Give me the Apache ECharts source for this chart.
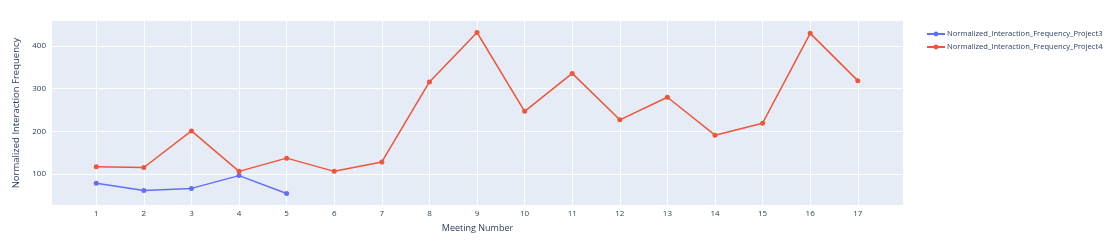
<!DOCTYPE html>
<html>
<head>
<meta charset="utf-8">
<script src="https://cdn.jsdelivr.net/npm/echarts@6/dist/echarts.min.js"></script>
<style>html,body{margin:0;padding:0;background:#fff}#c{width:1112px;height:251px}</style>
</head>
<body>
<div id="c"></div>
<script>
const meetings = [1,2,3,4,5,6,7,8,9,10,11,12,13,14,15,16,17];
const project3 = [78, 61, 66, 96, 54];
const project4 = [117, 115, 201, 106, 137, 106, 128, 316, 432, 247, 336, 227, 280, 191, 219, 430, 319];
const xTicks = meetings;
const yTicks = [100, 200, 300, 400];
const seriesNames = ['Normalized_Interaction_Frequency_Project3', 'Normalized_Interaction_Frequency_Project4'];
const colors = ['#636efa', '#EF553B'];

const font = '"Open Sans", "Noto Sans", sans-serif';
const textColor = '#2a3f5f';

const chart = echarts.init(document.getElementById('c'));
chart.setOption({
  animation: false,
  grid: { left: 52, right: 209, top: 21, bottom: 46, show: true, backgroundColor: '#E5ECF6', borderWidth: 0 },
  legend: {
    orient: 'vertical', left: 921, top: 25,
    itemWidth: 18, itemHeight: 6, itemGap: 5,
    textStyle: { fontFamily: font, fontSize: 7.6, color: textColor, padding: [0,0,0,-3] },
    data: seriesNames
  },
  xAxis: {
    type: 'value', min: 0.07, max: 17.95,
    name: 'Meeting Number', nameLocation: 'middle', nameGap: 19,
    nameTextStyle: { fontFamily: font, fontSize: 9, color: textColor },
    axisLine: { show: false }, axisTick: { show: false, customValues: xTicks },
    axisLabel: { customValues: xTicks, fontFamily: font, fontSize: 8, color: textColor, margin: 5 },
    splitLine: { show: true, lineStyle: { color: '#ffffff', width: 1 } }
  },
  yAxis: {
    type: 'value', min: 27, max: 459,
    name: 'Normalized Interaction Frequency', nameLocation: 'middle', nameGap: 25,
    nameTextStyle: { fontFamily: font, fontSize: 9.5, color: textColor },
    axisLine: { show: false }, axisTick: { show: false, customValues: yTicks },
    axisLabel: { customValues: yTicks, fontFamily: font, fontSize: 8, color: textColor, margin: 6 },
    splitLine: { show: true, lineStyle: { color: '#ffffff', width: 1 } }
  },
  series: [
    {
      name: seriesNames[0], type: 'line',
      data: project3.map((v, i) => [meetings[i], v]),
      symbol: 'circle', symbolSize: 5,
      itemStyle: { color: colors[0] }, lineStyle: { color: colors[0], width: 1.5 }
    },
    {
      name: seriesNames[1], type: 'line',
      data: project4.map((v, i) => [meetings[i], v]),
      symbol: 'circle', symbolSize: 5,
      itemStyle: { color: colors[1] }, lineStyle: { color: colors[1], width: 1.5 }
    }
  ]
});
</script>
</body>
</html>
